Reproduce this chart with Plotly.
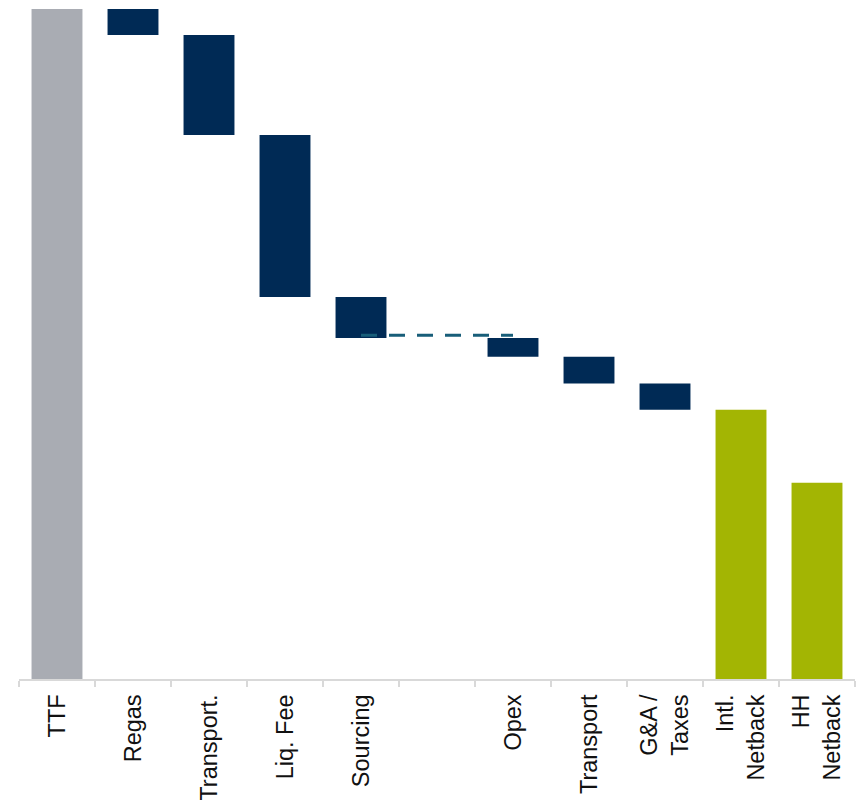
import plotly.graph_objects as go

categories = ["TTF", "Regas", "Transport.", "Liq. Fee", "Sourcing", " ",
              "Opex", "Transport", "G&A /<br>Taxes", "Intl.<br>Netback", "HH<br>Netback"]
# kind: "total" bars start at zero, "step" bars hang down from running level
kinds = ["total", "step", "step", "step", "step", "blank",
         "step", "step", "step", "total", "total"]
values = [10.0, 0.39, 1.49, 2.42, 0.61, None, 0.28, 0.40, 0.39, 4.02, 2.93]
colors = ["#A9ACB3", "#002A55", "#002A55", "#002A55", "#002A55", "#002A55",
          "#002A55", "#002A55", "#002A55", "#A3B503", "#A3B503"]
ref_line_level = 5.13
ref_line_from, ref_line_to = "Sourcing", "Opex"

bases, heights = [], []
level = 0.0
for k, v in zip(kinds, values):
    if k == "total":
        bases.append(0.0)
        heights.append(v)
        level = v
    elif k == "step":
        level -= v
        bases.append(level)
        heights.append(v)
    else:
        bases.append(None)
        heights.append(None)

fig = go.Figure()
fig.add_trace(go.Bar(x=categories, y=heights, base=bases, width=0.67,
                     marker=dict(color=colors, line=dict(width=0)),
                     hoverinfo="skip"))
fig.add_trace(go.Scatter(x=[ref_line_from, ref_line_to],
                         y=[ref_line_level, ref_line_level],
                         mode="lines", hoverinfo="skip",
                         line=dict(color="#185E79", width=3, dash="16px,12px")))

fig.update_layout(
    width=856, height=800,
    margin=dict(l=19, r=1, t=0, b=121, autoexpand=False),
    plot_bgcolor="white", paper_bgcolor="white",
    showlegend=False,
    font=dict(family="Liberation Sans, Arial, sans-serif", size=23.5, color="#111111"),
    xaxis=dict(type="category", categoryorder="array", categoryarray=categories,
               tickangle=-90, showline=True, linecolor="#D9D9D9", linewidth=2,
               ticks="outside", tickson="boundaries", ticklen=6, tickcolor="#D9D9D9",
               tickwidth=2, showgrid=False, tickfont=dict(size=23.5), automargin=False,
               ticklabelstandoff=4),
    yaxis=dict(range=[0, 10.134], visible=False, showgrid=False, zeroline=False,
               automargin=False),
)
fig.write_html("out.html", config={"displayModeBar": False},
               post_script="document.body.style.margin='0px';document.body.style.overflow='hidden';")
